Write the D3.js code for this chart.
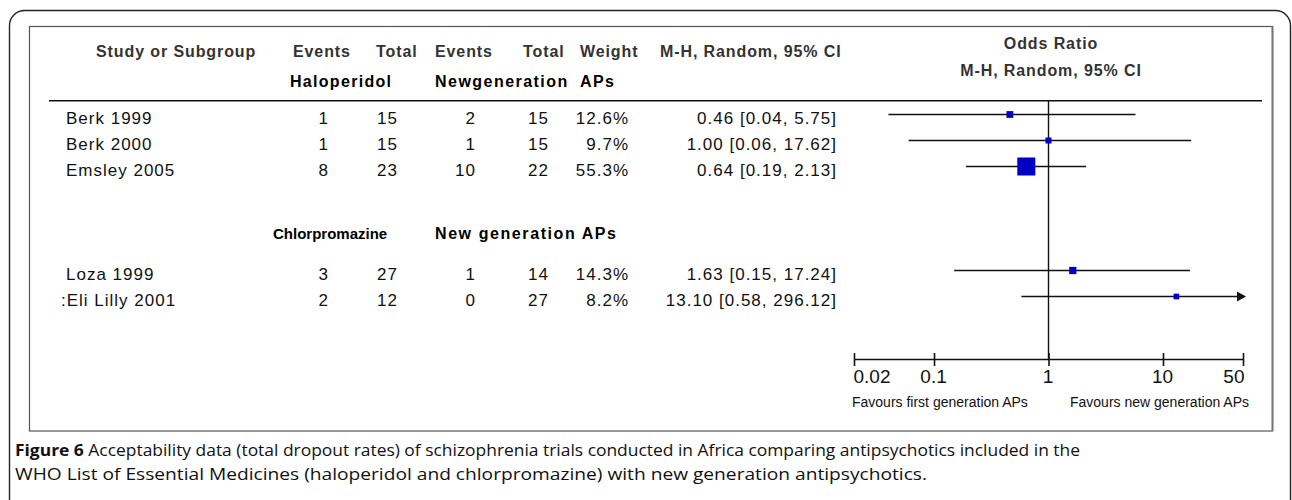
<!DOCTYPE html>
<html>
<head>
<meta charset="utf-8">
<script src="https://cdn.jsdelivr.net/npm/d3@7"></script>
<style>
  html, body { margin: 0; padding: 0; background: #fff; }
  svg { display: block; }
  .hdr { font-family: "Liberation Sans", Arial, sans-serif; font-weight: bold; font-size: 16px; letter-spacing: 0.9px; fill: #333; }
  .grp { font-family: "Liberation Sans", Arial, sans-serif; font-weight: bold; font-size: 16px; fill: #000; }
  .cell { font-family: "Liberation Sans", Arial, sans-serif; font-size: 17px; letter-spacing: 1px; fill: #111; }
  .fav { font-family: "Liberation Sans", Arial, sans-serif; font-size: 14px; fill: #111; }
  .cap { font-family: "Open Sans", "Noto Sans", sans-serif; font-size: 16px; fill: #111; }
</style>
</head>
<body>
<script>
// ---------------- data ----------------
const studies   = ["Berk 1999", "Berk 2000", "Emsley 2005", "Loza 1999", ":Eli Lilly 2001"];
const rowIndex  = [0, 1, 2, 6, 7];
const events1   = [1, 1, 8, 3, 2];
const total1    = [15, 15, 23, 27, 12];
const events2   = [2, 1, 10, 1, 0];
const total2    = [15, 15, 22, 14, 27];
const weights   = [12.6, 9.7, 55.3, 14.3, 8.2];
const oddsRatio = [0.46, 1.00, 0.64, 1.63, 13.10];
const ciLower   = [0.04, 0.06, 0.19, 0.15, 0.58];
const ciUpper   = [5.75, 17.62, 2.13, 17.24, 296.12];
const ciText    = ["0.46 [0.04, 5.75]", "1.00 [0.06, 17.62]", "0.64 [0.19, 2.13]", "1.63 [0.15, 17.24]", "13.10 [0.58, 296.12]"];
const weightText = ["12.6%", "9.7%", "55.3%", "14.3%", "8.2%"];

const headerLabels   = ["Study or Subgroup", "Events", "Total", "Events", "Total", "Weight", "M-H, Random, 95% CI"];
const comparatorLabels = ["Haloperidol", "Chlorpromazine"];
const newGenLabels     = ["Newgeneration  APs", "New generation APs"];
const plotTitle  = ["Odds Ratio", "M-H, Random, 95% CI"];
const tickValues = [0.02, 0.1, 1, 10, 50];
const tickLabels = ["0.02", "0.1", "1", "10", "50"];
const favourLabels = ["Favours first generation APs", "Favours new generation APs"];
const captionBold = "Figure 6";
const captionLine1 = " Acceptability data (total dropout rates) of schizophrenia trials conducted in Africa comparing antipsychotics included in the";
const captionLine2 = "WHO List of Essential Medicines (haloperidol and chlorpromazine) with new generation antipsychotics.";

// ---------------- layout ----------------
const W = 1292, H = 500;
const svg = d3.select("body").append("svg").attr("width", W).attr("height", H);

// outer rounded frame and inner box
svg.append("rect").attr("x", 9.5).attr("y", 10.5).attr("width", 1281).attr("height", 520)
  .attr("rx", 15).attr("fill", "none").attr("stroke", "#222").attr("stroke-width", 1.4);
svg.append("rect").attr("x", 29.5).attr("y", 26.5).attr("width", 1243).attr("height", 404.5)
  .attr("fill", "none").attr("stroke", "#555").attr("stroke-width", 1.2);
svg.append("line").attr("x1", 1272.5).attr("x2", 1272.5).attr("y1", 26.5).attr("y2", 431)
  .attr("stroke", "#777").attr("stroke-width", 2);

const x = d3.scaleLog().domain([0.02, 50]).range([854, 1243]);
const y = d3.scaleLinear().domain([0, 7]).range([114.5, 296.5]);
const size = d3.scaleLinear().domain([0, 55.3]).range([3.5, 18]);

// headers
const hdrX = [96, 293, 376, 435, 523, 580, 660];
svg.selectAll("text.hdr").data(headerLabels).join("text").attr("class", "hdr")
  .attr("x", (d, i) => hdrX[i]).attr("y", 56.5).text(d => d);

const grpY = [86.5, 239];
const grpX = [290, 273];
const grpSize = [16, 15];
const grpLen2 = [179, 181];
comparatorLabels.forEach((lab, i) => {
  const t = svg.append("text").attr("class", "grp").attr("x", grpX[i]).attr("y", grpY[i])
    .style("font-size", grpSize[i] + "px").text(lab);
  if (i === 0) t.attr("textLength", 101).attr("lengthAdjust", "spacing");
  svg.append("text").attr("class", "grp").attr("x", 435).attr("y", grpY[i])
    .attr("textLength", grpLen2[i]).attr("lengthAdjust", "spacing")
    .style("white-space", "pre").text(newGenLabels[i]);
});

// plot title
svg.selectAll("text.ptitle").data(plotTitle).join("text").attr("class", "hdr ptitle")
  .attr("x", 1051).attr("y", (d, i) => i === 0 ? 49 : 75.5).attr("text-anchor", "middle").text(d => d);

// header rule
svg.append("line").attr("x1", 49).attr("x2", 1262).attr("y1", 100.8).attr("y2", 100.8)
  .attr("stroke", "#111").attr("stroke-width", 1.4);

// table rows
const rows = studies.map((s, i) => ({ s, i, r: rowIndex[i] }));
const base = d => y(d.r) + 9.8;
svg.selectAll("text.study").data(rows).join("text").attr("class", "cell study")
  .attr("x", d => d.s.startsWith(":") ? 61 : 66).attr("y", base).text(d => d.s);
const cols = [
  { vals: events1, x: 329 },
  { vals: total1, x: 398 },
  { vals: events2, x: 476 },
  { vals: total2, x: 549 },
  { vals: weightText, x: 629 },
  { vals: ciText, x: 837 }
];
cols.forEach(c => {
  svg.append("g").selectAll("text").data(rows).join("text").attr("class", "cell")
    .attr("x", c.x).attr("y", base).attr("text-anchor", "end").text(d => c.vals[d.i]);
});

// reference line at 1
const axisY = 359.5;
svg.append("line").attr("x1", x(1)).attr("x2", x(1)).attr("y1", 100.8).attr("y2", axisY)
  .attr("stroke", "#111").attr("stroke-width", 1.4);

// CI lines
const maxX = x.domain()[1];
svg.selectAll("line.ci").data(rows).join("line").attr("class", "ci")
  .attr("x1", d => x(ciLower[d.i]))
  .attr("x2", d => ciUpper[d.i] > maxX ? x(maxX) - 4 : x(ciUpper[d.i]))
  .attr("y1", d => y(d.r)).attr("y2", d => y(d.r))
  .attr("stroke", "#111").attr("stroke-width", 1.3);
// arrows for truncated CIs
svg.selectAll("path.arrow").data(rows.filter(d => ciUpper[d.i] > maxX)).join("path").attr("class", "arrow")
  .attr("d", d => { const tx = x(maxX) + 3, cy = y(d.r); return `M${tx},${cy} L${tx - 9},${cy - 5} L${tx - 9},${cy + 5} Z`; })
  .attr("fill", "#111");
// squares
svg.selectAll("rect.pt").data(rows).join("rect").attr("class", "pt")
  .attr("x", d => x(oddsRatio[d.i]) - size(weights[d.i]) / 2)
  .attr("y", d => y(d.r) - size(weights[d.i]) / 2)
  .attr("width", d => size(weights[d.i])).attr("height", d => size(weights[d.i]))
  .attr("fill", "#0000c4");

// axis
const axis = d3.axisBottom(x).tickValues(tickValues).tickSize(0).tickFormat(() => "");
const ag = svg.append("g").attr("transform", `translate(0,${axisY})`).call(axis);
ag.select(".domain").attr("stroke", "#111").attr("stroke-width", 1.4).attr("d", `M${x(0.02)},0H${x(50)}`);
ag.selectAll(".tick").append("line").attr("y1", -6.5).attr("y2", 6.5).attr("stroke", "#111").attr("stroke-width", 1.6);
ag.selectAll(".tick").append("text").attr("fill", "#111")
  .attr("y", 23.5).attr("text-anchor", (d, i) => i === 0 ? "start" : (i === tickValues.length - 1 ? "end" : "middle"))
  .attr("dx", (d, i) => i === 0 ? -1 : (i === tickValues.length - 1 ? 1 : -1))
  .style("font-family", '"Liberation Sans", Arial, sans-serif').style("font-size", "19px")
  .text((d, i) => tickLabels[i]);

// favours labels
svg.append("text").attr("class", "fav").attr("x", 852).attr("y", 407).text(favourLabels[0]);
svg.append("text").attr("class", "fav").attr("x", 1249).attr("y", 407).attr("text-anchor", "end").text(favourLabels[1]);

// caption
const c1 = svg.append("text").attr("class", "cap").attr("x", 15).attr("y", 456)
  .attr("textLength", 1065).attr("lengthAdjust", "spacingAndGlyphs");
c1.append("tspan").style("font-weight", "bold").text(captionBold);
c1.append("tspan").style("white-space", "pre").text(captionLine1);
svg.append("text").attr("class", "cap").attr("x", 15).attr("y", 479.5)
  .attr("textLength", 912).attr("lengthAdjust", "spacingAndGlyphs").text(captionLine2);
</script>
</body>
</html>
